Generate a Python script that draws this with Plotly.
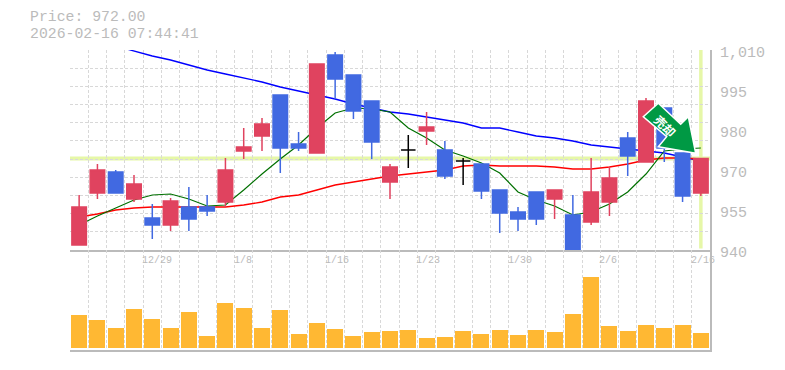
import plotly.graph_objects as go

price_label = "Price: 972.00"
time_label = "2026-02-16 07:44:41"
current_price = 972.0

opens  = [941.75,959.95,967.3,957.85,951.2,948.75,955.05,955.05,956.8,974.65,979.9,994.25,977.1,973.95,1008.25,1001.25,992.15,963.8,975,981.65,975,971.15,970.1,961,953.3,960.3,957.85,952.25,949.8,956.8,979.2,970.8,989.7,973.95,959.95]
closes = [955.05,968,959.95,963.1,948.75,957.15,950.85,953.65,968,976.05,984.1,975.7,975.7,1005.1,999.85,988.65,977.8,969.05,975,983.05,965.9,971.15,960.65,952.95,950.85,950.85,961,940,960.3,965.2,972.9,992.15,975.7,958.9,972]
highs  = [959.25,970.1,968,966.25,956.1,958.2,962.05,959.25,972.2,982.7,986.2,994.25,981.3,1005.1,1009.3,1001.25,992.15,970.1,980.25,988.3,978.15,972.2,970.1,961,955.05,960.3,961,959.25,972.2,969.05,981.3,993.2,989.7,973.95,972]
lows   = [941.75,957.85,959.95,956.8,943.85,946.65,946.65,951.9,955.05,971.85,974.65,966.95,974.65,973.95,992.85,985.85,971.85,957.85,968.7,976.75,964.85,962.75,957.85,945.95,946.65,948.75,950.85,940,948.75,951.9,965.9,970.8,970.8,956.8,958.9]
volumes = [33,28,20,39,29,20,36,12,45,40,20,38,14,25,19,12,16,17,18,10,11,17,14,18,13,18,16,34,71,22,17,23,20,23,15]

ma_short = [948.75,951.9,954.7,957.5,959.25,959.6,957.85,955.4,955.75,961,966.6,971.85,976.75,982.7,987.95,989.7,989.35,988.3,982.7,979.2,975,972.9,970.45,966.95,960.3,957.5,955.4,952.25,953.3,956.1,960.3,966.6,974.65,975.35,975.7]
ma_mid = [951.55,952.6,954,954.7,955.05,955.05,955.05,955.05,955.05,955.75,956.8,958.55,959.25,961,962.75,963.8,964.85,965.9,966.6,967.3,968,969.4,969.75,969.4,969.4,969.4,969.05,968.35,968.35,969.05,970.1,971.5,972.2,972.2,971.85]
ma_long = [None,None,1011.4,1009.65,1007.9,1006.5,1004.75,1003,1001.6,1000.2,998.8,997.05,995.65,994.25,992.85,991.1,989.7,988.3,987.6,986.55,985.5,984.45,982.7,982.7,981.3,979.9,979.2,978.15,976.75,976.05,975.35,974.65,973.95,972.55,971.15]

date_ticks = [4,9,14,19,24,29,34]
date_labels = ["12/29","1/8","1/16","1/23","1/30","2/6","2/16"]
price_ticks = [940,954,968,982,996,1010]
price_labels = ["940","955","970","980","995","1,010"]

W,H = 785,370
L,R,T,B = 70,710,50,350
px = lambda x:(x-L)/(R-L)
py = lambda y:(B-y)/(B-T)

idx = list(range(len(opens)))
is_doji = [o==c for o,c in zip(opens,closes)]
normal = [i for i in idx if not is_doji[i]]
doji = [i for i in idx if is_doji[i]]
RED="#E0435F"; BLUE="#4169E1"; GRID="#D8D8D8"; AXIS="#BBBBBB"; HL="#E6F7A8"; TXT="#BBBBBB"

fig = go.Figure()
fig.add_trace(go.Scatter(x=idx,y=ma_long,mode="lines",line=dict(color="#0000FF",width=1.3),cliponaxis=False,xaxis="x",yaxis="y",showlegend=False,hoverinfo="skip"))
fig.add_trace(go.Scatter(x=idx,y=ma_mid,mode="lines",line=dict(color="#FF0000",width=1.3),xaxis="x",yaxis="y",showlegend=False,hoverinfo="skip"))
fig.add_trace(go.Scatter(x=idx,y=ma_short,mode="lines",line=dict(color="#007000",width=1.2),xaxis="x",yaxis="y",showlegend=False,hoverinfo="skip"))
pick = lambda a,ii:[a[i] for i in ii]
fig.add_trace(go.Candlestick(x=normal,open=pick(opens,normal),high=pick(highs,normal),low=pick(lows,normal),close=pick(closes,normal),
    increasing=dict(line=dict(color=RED,width=1.5),fillcolor=RED),decreasing=dict(line=dict(color=BLUE,width=1.5),fillcolor=BLUE),
    whiskerwidth=0,xaxis="x",yaxis="y3",showlegend=False,hoverinfo="skip"))
fig.add_trace(go.Candlestick(x=doji,open=pick(opens,doji),high=pick(highs,doji),low=pick(lows,doji),close=pick(closes,doji),
    increasing=dict(line=dict(color="#000000",width=1.5),fillcolor="#000000"),decreasing=dict(line=dict(color="#000000",width=1.5),fillcolor="#000000"),
    whiskerwidth=0,xaxis="x",yaxis="y3",showlegend=False,hoverinfo="skip"))
fig.add_trace(go.Bar(x=idx,y=volumes,width=0.875,marker=dict(color="#FFB833",line=dict(width=0)),xaxis="x2",yaxis="y2",showlegend=False,hoverinfo="skip"))

grid_x = [i-0.5 for i in range(len(opens)+1)]
grid_y = [940+70/11*i for i in range(12)]
xcommon = dict(range=[-0.5,len(opens)-0.5],tickmode="array",tickvals=grid_x,showticklabels=False,ticks="",showgrid=True,
    gridcolor=GRID,griddash="3px,2px",gridwidth=1,zeroline=False,showline=True,linecolor=AXIS,linewidth=2,rangeslider=dict(visible=False))
fonts = "Liberation Mono, DejaVu Sans Mono, monospace"
fig.update_layout(
    width=W,height=H,margin=dict(l=L,r=W-R,t=T,b=H-B,autoexpand=False),paper_bgcolor="white",plot_bgcolor="white",
    boxmode="overlay",boxgap=0.207,boxgroupgap=0,bargap=0,hovermode=False,showlegend=False,
    xaxis=dict(anchor="y",**xcommon),
    xaxis2=dict(anchor="y2",matches="x",**xcommon),
    yaxis=dict(domain=[1/3,1],anchor="x",range=[940,1010],side="right",tickmode="array",tickvals=grid_y,showticklabels=False,
        showgrid=True,gridcolor=GRID,griddash="3px,2px",gridwidth=1,zeroline=False,ticks="",showline=True,linecolor=AXIS,linewidth=2),
    yaxis3=dict(domain=[1/3,1],anchor="x",overlaying="y",matches="y",side="right",visible=False,showgrid=False,zeroline=False),
    yaxis2=dict(domain=[0,1/3],anchor="x",range=[-2,98],side="right",showgrid=False,showticklabels=False,zeroline=False,ticks="",showline=True,linecolor=AXIS,linewidth=2),
)
# highlight of the current price and the latest session
fig.add_shape(type="line",xref="paper",x0=0,x1=1,yref="y",y0=current_price,y1=current_price,line=dict(color=HL,width=4),layer="below")
fig.add_shape(type="line",xref="x",x0=idx[-1],x1=idx[-1],yref="paper",y0=py(248.5),y1=py(50),line=dict(color=HL,width=3.5),layer="below")

# signal arrow
pts = [(658.3,103.3),(680.7,124.3),(688.3,116.7),(695.7,153.3),(658.3,146.7),(666.7,136.7),(643.3,116.7)]
path = "M "+" L ".join(f"{px(x):.5f},{py(y):.5f}" for x,y in pts)+" Z"
fig.add_shape(type="path",xref="paper",yref="paper",path=path,fillcolor="#009944",line=dict(color="white",width=1.5),layer="above")
fig.add_annotation(xref="paper",yref="paper",x=px(665),y=py(126),text="<b>売却</b>",showarrow=False,textangle=45,
    font=dict(family="Noto Sans CJK JP",size=12,color="white"),xanchor="center",yanchor="middle")

for t,lab in zip(date_ticks,date_labels):
    fig.add_annotation(xref="x",yref="paper",x=t-0.5,y=py(260),text=lab,showarrow=False,xanchor="left",yanchor="middle",xshift=-1,
        font=dict(family=fonts,size=10,color=TXT),borderpad=0,borderwidth=0)
for v,lab in zip(price_ticks,price_labels):
    fig.add_annotation(xref="paper",yref="y",x=px(719),y=v,yshift=-3,text=lab,showarrow=False,xanchor="left",yanchor="middle",
        font=dict(family=fonts,size=15,color=TXT),borderpad=0)
fig.add_annotation(xref="paper",yref="paper",x=px(28.5),y=py(17.2),text=price_label,showarrow=False,xanchor="left",yanchor="middle",font=dict(family=fonts,size=14.8,color=TXT),borderpad=0)
fig.add_annotation(xref="paper",yref="paper",x=px(28.5),y=py(33.8),text=time_label,showarrow=False,xanchor="left",yanchor="middle",font=dict(family=fonts,size=14.8,color=TXT),borderpad=0)

fig.write_html("out.html",config=dict(displayModeBar=False),post_script="document.body.style.margin='0';document.body.style.overflow='hidden';")
